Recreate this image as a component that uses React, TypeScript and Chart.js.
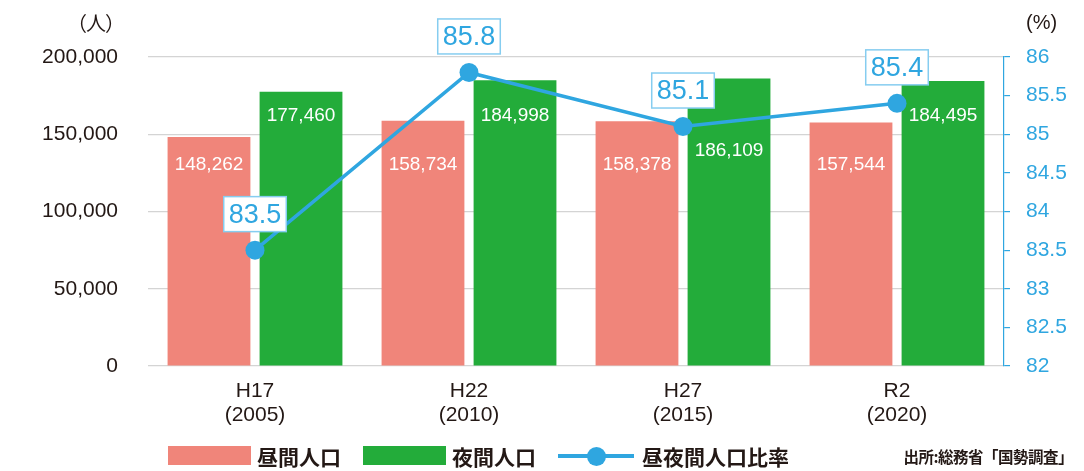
import React, { useEffect, useRef } from "react";
import { Chart, registerables } from "chart.js";

Chart.register(...registerables);

const categories: string[][] = [
  ["H17", "(2005)"],
  ["H22", "(2010)"],
  ["H27", "(2015)"],
  ["R2", "(2020)"],
];
const daytimePop: number[] = [148262, 158734, 158378, 157544];
const nighttimePop: number[] = [177460, 184998, 186109, 184495];
const dayNightRatio: number[] = [83.5, 85.8, 85.1, 85.4];

const leftTicks = { min: 0, max: 200000, step: 50000 };
const rightTicks = { min: 82, max: 86, step: 0.5 };

const PINK = "#f0857a";
const GREEN = "#23ac3a";
const BLUE = "#2fa6e0";
const BOX_BORDER = "#86cdf0";
const TEXT = "#231815";
const FONT = "'Liberation Sans', Arial, sans-serif";
const JP = "'Noto Sans CJK JP', 'Noto Sans', sans-serif";

const fmt = (v: number) => v.toLocaleString("en-US");

const labelsPlugin = {
  id: "valueLabels",
  afterDatasetsDraw(chart: any) {
    const ctx = chart.ctx;
    const y = chart.scales.y;
    const opts = chart.options.plugins.valueLabels;
    ctx.save();
    ctx.font = `19px ${FONT}`;
    ctx.fillStyle = "#ffffff";
    ctx.textAlign = "center";
    ctx.textBaseline = "middle";
    const m0 = chart.getDatasetMeta(0);
    const m1 = chart.getDatasetMeta(1);
    m0.data.forEach((el: any, i: number) => {
      ctx.fillText(fmt(daytimePop[i]), el.x, y.getPixelForValue(opts.pinkAt));
    });
    m1.data.forEach((el: any, i: number) => {
      const at = opts.greenShift[i] !== undefined ? opts.greenShift[i] : opts.greenAt;
      ctx.fillText(fmt(nighttimePop[i]), el.x, y.getPixelForValue(at));
    });
    const m2 = chart.getDatasetMeta(2);
    ctx.font = `27px ${FONT}`;
    m2.data.forEach((el: any, i: number) => {
      const t = String(dayNightRatio[i]);
      const w = ctx.measureText(t).width + 10;
      const h = 35;
      const cx = el.x;
      const cy = el.y - 36;
      ctx.fillStyle = "#ffffff";
      ctx.fillRect(cx - w / 2, cy - h / 2, w, h);
      ctx.strokeStyle = BOX_BORDER;
      ctx.lineWidth = 1.5;
      ctx.strokeRect(cx - w / 2, cy - h / 2, w, h);
      ctx.fillStyle = BLUE;
      ctx.fillText(t, cx, cy + 1);
    });
    ctx.restore();
  },
};

export default function App() {
  const ref = useRef<HTMLCanvasElement | null>(null);

  useEffect(() => {
    if (!ref.current) return;
    const chart = new Chart(ref.current, {
      type: "bar",
      data: {
        labels: categories as any,
        datasets: [
          {
            type: "bar",
            label: "昼間人口",
            data: daytimePop,
            backgroundColor: PINK,
            yAxisID: "y",
            order: 2,
            categoryPercentage: 0.86,
            barPercentage: 0.9,
          },
          {
            type: "bar",
            label: "夜間人口",
            data: nighttimePop,
            backgroundColor: GREEN,
            yAxisID: "y",
            order: 2,
            categoryPercentage: 0.86,
            barPercentage: 0.9,
          },
          {
            type: "line",
            label: "昼夜間人口比率",
            data: dayNightRatio,
            borderColor: BLUE,
            backgroundColor: BLUE,
            borderWidth: 3.5,
            pointRadius: 9.5,
            pointBorderWidth: 0,
            pointBackgroundColor: BLUE,
            yAxisID: "y1",
            order: 0,
            tension: 0,
          } as any,
        ],
      },
      options: {
        responsive: false,
        animation: false,
        layout: { padding: { top: 49, left: 0, right: 0, bottom: 0 } },
        plugins: {
          legend: { display: false },
          tooltip: { enabled: false },
          valueLabels: { pinkAt: 130500, greenAt: 161700, greenShift: { 2: 139000 } },
        } as any,
        scales: {
          x: {
            grid: { display: false },
            border: { display: false },
            ticks: {
              color: TEXT,
              font: { family: FONT, size: 21, lineHeight: 1.15 },
              padding: 5,
              maxRotation: 0,
            },
            afterFit(scale: any) {
              scale.height = 97;
            },
          },
          y: {
            position: "left",
            min: leftTicks.min,
            max: leftTicks.max,
            ticks: {
              stepSize: leftTicks.step,
              color: TEXT,
              font: { family: FONT, size: 21 },
              padding: 30,
              callback: (v: any) => fmt(Number(v)),
            },
            grid: { color: "#d4d4d4", lineWidth: 1.2, drawTicks: false },
            border: { display: false },
            afterFit(scale: any) {
              scale.width = 140;
            },
          },
          y1: {
            position: "right",
            min: rightTicks.min,
            max: rightTicks.max,
            ticks: {
              stepSize: rightTicks.step,
              color: BLUE,
              font: { family: FONT, size: 21 },
              padding: 16,
              callback: (v: any) => String(v),
            },
            grid: {
              drawOnChartArea: false,
              color: BLUE,
              tickLength: 6,
              lineWidth: 1.2,
            },
            border: { display: true, color: BLUE, width: 1.2 },
            afterFit(scale: any) {
              scale.width = 72;
            },
          },
        },
      },
      plugins: [labelsPlugin],
    });
    return () => chart.destroy();
  }, []);

  const legendText: React.CSSProperties = {
    position: "absolute",
    top: 438,
    height: 20,
    lineHeight: "20px",
    fontFamily: JP,
    fontWeight: 700,
    fontSize: 21,
    color: TEXT,
    whiteSpace: "nowrap",
  };

  return (
    <div style={{ position: "relative", width: 1068, height: 463, overflow: "visible" }}>
      <canvas ref={ref} width={1068} height={455} style={{ display: "block" }} />
      <div
        style={{
          position: "absolute",
          top: 2,
          right: 1068 - 116,
          fontFamily: JP,
          fontSize: 20,
          lineHeight: "26px",
          color: TEXT,
          whiteSpace: "nowrap",
          letterSpacing: -1,
        }}
      >
        （人）
      </div>
      <div
        style={{
          position: "absolute",
          top: 1,
          left: 1018,
          fontFamily: FONT,
          fontSize: 20,
          lineHeight: "26px",
          color: TEXT,
        }}
      >
        (%)
      </div>
      <div style={{ position: "absolute", left: 160, top: 438, width: 83, height: 19, background: PINK }} />
      <div style={{ ...legendText, left: 249 }}>昼間人口</div>
      <div style={{ position: "absolute", left: 355, top: 438, width: 83, height: 19, background: GREEN }} />
      <div style={{ ...legendText, left: 444 }}>夜間人口</div>
      <div style={{ position: "absolute", left: 550, top: 446, width: 76, height: 4, background: BLUE }} />
      <div
        style={{
          position: "absolute",
          left: 588 - 9.5,
          top: 448 - 9.5,
          width: 19,
          height: 19,
          borderRadius: "50%",
          background: BLUE,
        }}
      />
      <div style={{ ...legendText, left: 634 }}>昼夜間人口比率</div>
      <div
        style={{
          ...legendText,
          left: undefined,
          right: 3,
          fontSize: 15.5,
          letterSpacing: -0.5,
        }}
      >
        出所:総務省「国勢調査」
      </div>
    </div>
  );
}
